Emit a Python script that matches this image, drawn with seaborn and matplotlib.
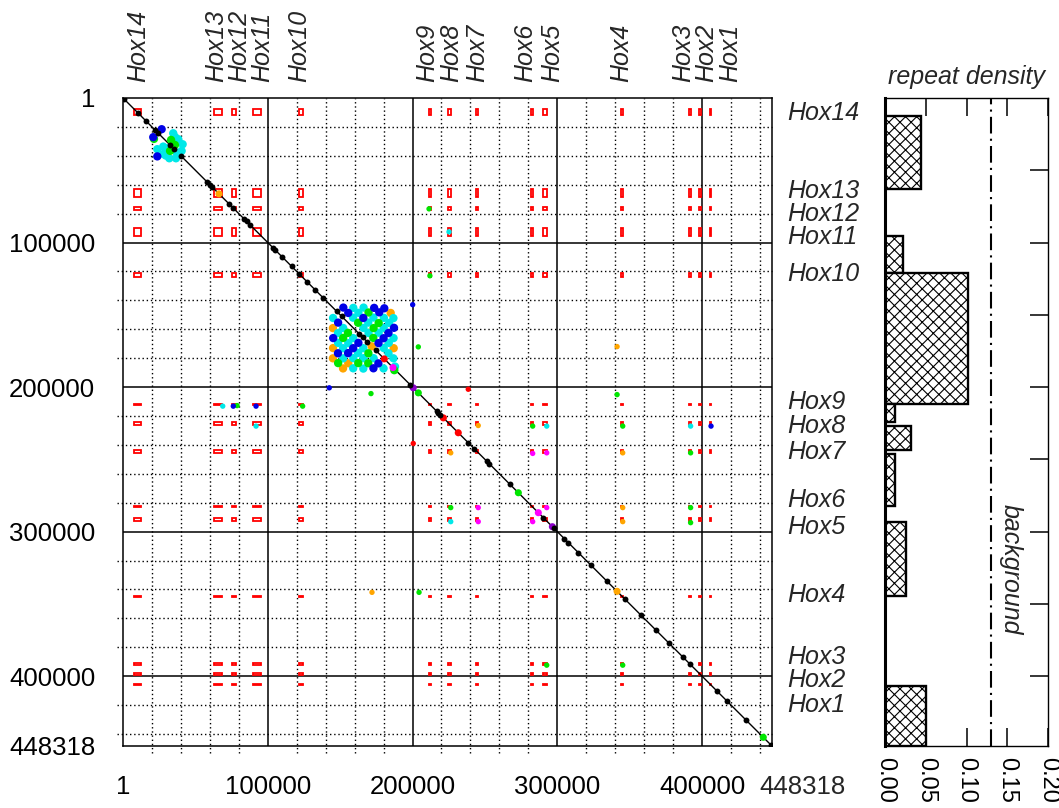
import numpy as np
import pandas as pd
import matplotlib
matplotlib.use("Agg")
import matplotlib.pyplot as plt
import matplotlib.transforms as mtransforms
from matplotlib.patches import Rectangle
import seaborn as sns

# ---- sequence / genes -------------------------------------------------
seq_len = 448318

gene_names = ["Hox14", "Hox13", "Hox12", "Hox11", "Hox10", "Hox9", "Hox8",
              "Hox7", "Hox6", "Hox5", "Hox4", "Hox3", "Hox2", "Hox1"]
gene_start = [7800, 62900, 75500, 90000, 121300, 211600, 224300,
              243800, 282000, 290400, 344200, 391100, 397800, 405300]
gene_end = [12100, 68600, 77800, 95300, 124100, 212500, 226500,
            245300, 283100, 292700, 345200, 392600, 399000, 406400]
label_pos = [10300, 64500, 80500, 96200, 122000, 210500, 227000,
             244700, 278100, 296600, 343900, 387000, 402800, 419700]

# ---- repeat density (intergenic) ---------------------------------------
dens_start = [12400, 95300, 121100, 211400, 226600, 246600, 293400, 406700]
dens_end = [62900, 121100, 211400, 224000, 243800, 282300, 344500, 448318]
dens_val = [0.044, 0.022, 0.102, 0.012, 0.032, 0.012, 0.026, 0.050]
background = 0.13

# ---- dot plot hits (kb) ------------------------------------------------
diag_black = [0.5, 10.6, 15.9, 22.1, 24.4, 32.5, 35.2, 40.1, 57.8, 60.1, 61.3,
              73.4, 76.2, 83.6, 85.4, 87.7, 103.8, 105.0, 110.0, 116.5, 121.8,
              127.3, 132.6, 138.4, 147.6, 151.1, 163.2, 165.6, 168.8, 174.6,
              198.3, 216.7, 217.9, 219.0, 238.5, 242.5, 251.2, 253.0, 267.3,
              290.3, 297.7, 304.8, 307.6, 314.5, 323.3, 334.3, 346.8, 357.8,
              368.2, 377.2, 386.8, 391.7, 410.5, 417.0, 430.4, 447.4]
diag_red = [180.5, 221.3, 231.6]
diag_green = [204.0, 273.1, 442.3]
diag_purple = [200.5, 296.6]
diag_magenta = [186.5, 286.9]
diag_orange = [66.3, 341.3]

# repeat clusters
clu_orange = [(184.9, 148.7), (187.0, 173.1), (145.0, 159.2), (145.1, 173.0),
              (155.6, 183.5), (145.0, 180.1), (152.0, 187.1), (171.8, 171.8)]
clu_blue = [(26.7, 21.6), (20.9, 27.1), (23.7, 40.4),
            (180.5, 145.5), (173.5, 145.2), (177.0, 148.3), (187.2, 159.0),
            (183.4, 162.6), (166.0, 152.2), (180.0, 166.2), (152.2, 145.0),
            (155.6, 148.7), (176.5, 169.6), (148.6, 155.4), (162.6, 169.4),
            (176.4, 183.6), (159.0, 173.1), (173.0, 187.0), (145.2, 166.1),
            (155.5, 176.5), (148.5, 176.6)]
clu_green = [(21.4, 28.3), (33.2, 29.0), (35.9, 32.5), (32.5, 36.6),
             (169.6, 148.4), (176.6, 155.7), (173.1, 159.2), (162.4, 155.5),
             (172.9, 166.0), (155.4, 162.5), (169.5, 176.6), (152.1, 166.0),
             (169.4, 183.5), (162.5, 183.4), (148.6, 183.4), (187.4, 188.3)]
clu_cyan = [(34.7, 24.4), (38.2, 28.5), (27.8, 33.6), (41.2, 32.0), (23.7, 35.4),
            (30.2, 34.7), (40.5, 36.6), (27.8, 38.7), (37.1, 37.8), (32.0, 41.7),
            (36.6, 41.7), (36.0, 27.0), (29.5, 39.8),
            (186.8, 152.3), (180.2, 152.1), (183.8, 155.6), (166.2, 145.0),
            (173.0, 151.9), (180.1, 159.0), (186.9, 166.1), (159.1, 145.2),
            (162.6, 148.6), (169.4, 155.4), (176.6, 162.4), (183.6, 169.4),
            (158.9, 152.0), (166.1, 159.1), (169.6, 162.6), (180.1, 173.0),
            (183.4, 176.6), (186.8, 180.1), (145.1, 152.2), (152.1, 159.1),
            (159.0, 166.1), (166.0, 173.1), (173.1, 180.0), (180.0, 187.1),
            (148.5, 162.6), (155.6, 169.6), (162.4, 176.4), (166.1, 180.0),
            (148.6, 169.4), (152.0, 173.1), (159.1, 180.0), (166.0, 187.2),
            (152.1, 180.1), (159.0, 187.0), (187.9, 185.8)]

# scattered hits, mostly between genes
oth_blue = [(200.1, 143.0), (142.5, 200.5), (406.2, 227.0), (76.2, 213.2),
            (91.9, 213.2)]
oth_green = [(204.0, 172.2), (171.3, 204.5), (341.3, 205.2), (204.5, 342.0),
             (211.4, 76.7), (212.0, 123.0), (283.0, 227.0), (345.2, 227.0),
             (226.4, 283.4), (392.1, 283.4), (392.1, 293.8), (392.1, 245.5),
             (292.7, 392.4), (345.2, 392.4), (78.8, 212.8), (124.1, 213.2)]
oth_orange = [(341.3, 172.0), (172.0, 342.0), (245.4, 226.6), (226.4, 245.5),
              (345.2, 245.5), (345.2, 283.4), (345.2, 293.1)]
oth_red = [(200.5, 239.0), (238.5, 201.5)]
oth_cyan = [(225.2, 92.6), (292.7, 227.0), (392.1, 227.0), (226.4, 293.1),
            (68.9, 213.2), (91.9, 227.0)]
oth_magenta = [(283.0, 245.9), (292.7, 245.5), (245.4, 283.4), (292.7, 283.4),
               (245.4, 293.1), (283.0, 293.1)]

colors = {"black": "#000000", "blue": "#0000e6", "cyan": "#00e8e8",
          "green": "#00e600", "orange": "#ffa500", "red": "#ff0000",
          "purple": "#8a00c8", "magenta": "#ff00ff"}


def to_df(groups):
    rows = []
    for cls, pts in groups:
        for x, y in pts:
            rows.append((x * 1000, y * 1000, cls))
    return pd.DataFrame(rows, columns=["x", "y", "cls"])


df_clu = to_df([("orange", clu_orange), ("cyan", clu_cyan),
                ("green", clu_green), ("blue", clu_blue)])
df_oth = to_df([("orange", oth_orange), ("cyan", oth_cyan), ("green", oth_green),
                ("blue", oth_blue), ("red", oth_red), ("magenta", oth_magenta)])
df_dcol = to_df([(c, [(p, p) for p in lst]) for c, lst in
                 [("red", diag_red), ("green", diag_green),
                  ("purple", diag_purple), ("magenta", diag_magenta),
                  ("orange", diag_orange)]])
df_dblk = to_df([("black", [(p, p) for p in diag_black])])

# ---- figure ------------------------------------------------------------
sns.set_style("white")
plt.rcParams["font.family"] = ["Liberation Sans", "DejaVu Sans"]
plt.rcParams["hatch.linewidth"] = 0.8

W, H = 1059, 808
fig = plt.figure(figsize=(W / 100, H / 100), dpi=100)
ax = fig.add_axes([123 / W, 62 / H, 649 / W, 648 / H])
ax2 = fig.add_axes([885 / W, 62 / H, 163 / W, 648 / H])

# grid
for v in range(20000, seq_len, 20000):
    if v % 100000:
        ax.axvline(v, ymin=-0.011, ymax=1, color="black", lw=1.0,
                   ls=(0, (1, 2)), clip_on=False, zorder=1)
        ax.axhline(v, xmin=-0.009, xmax=1, color="black", lw=1.0,
                   ls=(0, (1, 2)), clip_on=False, zorder=1)
    else:
        ax.axvline(v, color="black", lw=1.1, zorder=1)
        ax.axhline(v, color="black", lw=1.1, zorder=1)

# gene pair boxes
for i in range(len(gene_names)):
    for j in range(len(gene_names)):
        ax.add_patch(Rectangle((gene_start[i], gene_start[j]),
                               gene_end[i] - gene_start[i],
                               gene_end[j] - gene_start[j],
                               fill=False, ec="red", lw=1.3, zorder=2))

ax.plot([1, seq_len], [1, seq_len], color="black", lw=1.0, zorder=3)

sns.scatterplot(data=df_clu, x="x", y="y", hue="cls", palette=colors, s=36,
                linewidth=0, legend=False, ax=ax, zorder=4)
sns.scatterplot(data=df_oth, x="x", y="y", hue="cls", palette=colors, s=15,
                linewidth=0, legend=False, ax=ax, zorder=4)
sns.scatterplot(data=df_dcol, x="x", y="y", hue="cls", palette=colors, s=26,
                linewidth=0, legend=False, ax=ax, zorder=5)
sns.scatterplot(data=df_dblk, x="x", y="y", color="black", s=18,
                linewidth=0, legend=False, ax=ax, zorder=6)

ax.set_xlim(1, seq_len)
ax.set_ylim(seq_len, 1)
ax.set_xlabel("")
ax.set_ylabel("")

ax.set_xticks([1, 100000, 200000, 300000, 400000, seq_len])
ax.set_xticklabels(["1", "100000", "200000", "300000", "400000", ""])
ax.set_yticks([1, 100000, 200000, 300000, 400000, seq_len])
ax.set_yticklabels(["1", "100000", "200000", "300000", "400000", "448318"])
ax.tick_params(direction="out", length=13, width=1.1, labelsize=18.5,
               colors="black")
ax.tick_params(axis="x", pad=8)
ax.tick_params(axis="y", pad=7)
ax.annotate("448318", xy=(seq_len, 0), xycoords=("data", "axes fraction"),
            xytext=(21.6, -21), textcoords="offset points",
            ha="center", va="top", fontsize=18.5)
for s in ax.spines.values():
    s.set_color("black")
    s.set_linewidth(1.1)

top_tr = mtransforms.blended_transform_factory(ax.transData, ax.transAxes)
right_tr = mtransforms.blended_transform_factory(ax.transAxes, ax.transData)
for name, p in zip(gene_names, label_pos):
    ax.text(p, 1.0247, name, transform=top_tr, rotation=90, ha="center",
            va="bottom", fontsize=18, style="italic")
    ax.text(1.023, p, name, transform=right_tr, ha="left", va="center",
            fontsize=18, style="italic")

# ---- repeat density panel ----------------------------------------------
centers = [(a + b) / 2 for a, b in zip(dens_start, dens_end)]
heights = [b - a for a, b in zip(dens_start, dens_end)]
ax2.barh(centers, dens_val, height=heights, left=0, color="white",
         edgecolor="black", hatch="xxx", lw=1.7, zorder=2)
ax2.axvline(background, color="black", lw=1.5, ls=(0, (8, 2.5, 1, 2.5)),
            zorder=3)
ax2.text(0.1545, 326000, "background", rotation=270, ha="center",
         va="center", fontsize=18, style="italic")
ax2.text(0.5, 1.014, "repeat density", transform=ax2.transAxes,
         ha="center", va="bottom", fontsize=18, style="italic")

ax2.set_xlim(0, 0.2)
ax2.set_ylim(seq_len, 1)
ax2.set_xticks([0, 0.05, 0.10, 0.15, 0.20])
ax2.set_xticklabels(["0.00", "0.05", "0.10", "0.15", "0.20"])
ax2.set_yticks(list(range(50000, 400001, 50000)))
ax2.tick_params(axis="x", direction="in", length=13, width=1.1, top=True,
                bottom=True, labelbottom=True, labelrotation=-90,
                labelsize=17, pad=8, colors="black")
ax2.tick_params(axis="y", direction="in", length=13, width=1.1, left=False,
                right=True, labelleft=False, colors="black")
for k, s in ax2.spines.items():
    s.set_color("black")
    s.set_linewidth(2.2 if k == "left" else 1.0)

fig.savefig("out.png", dpi=100)
